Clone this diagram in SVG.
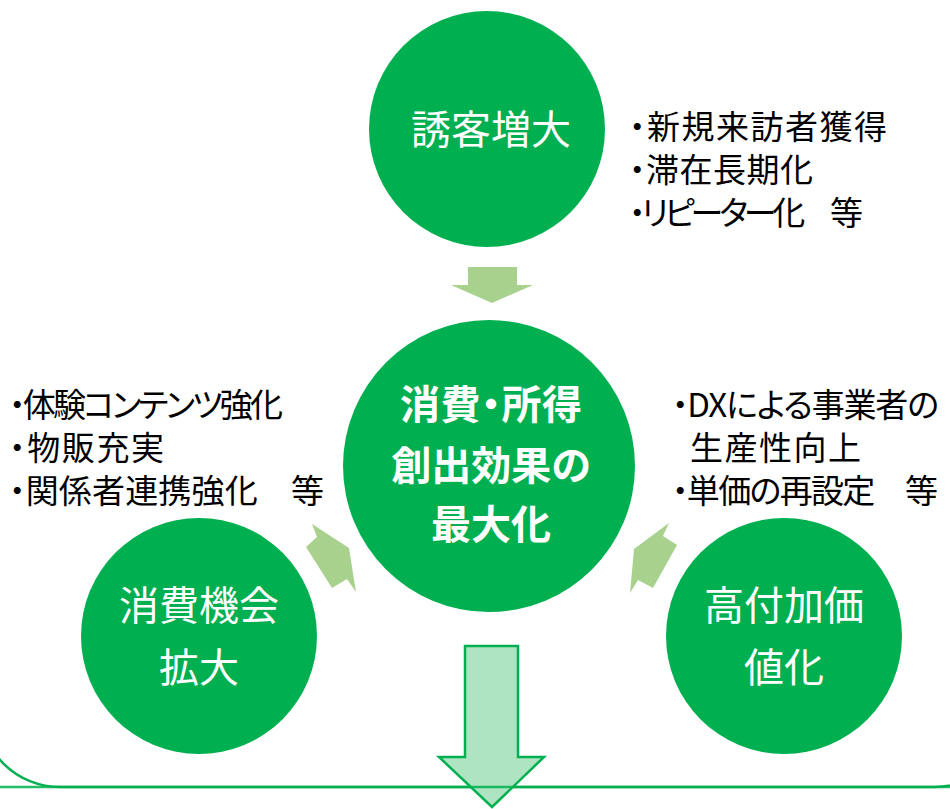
<svg xmlns="http://www.w3.org/2000/svg" width="950" height="809" viewBox="0 0 950 809">
<style>
.circle{fill:#00B050}
.ctext{fill:#FFFFFF;font-family:"Noto Sans CJK JP","Noto Sans",sans-serif;font-size:40px;text-anchor:middle}
.btext{fill:#FFFFFF;font-family:"Noto Sans CJK JP","Noto Sans",sans-serif;font-size:40px;font-weight:bold;font-feature-settings:"palt"}
.note{fill:#000000;font-family:"Noto Sans CJK JP","Noto Sans",sans-serif;font-size:33px;font-feature-settings:"palt"}
.arrow{fill:#A9D18E}
.bigarrow{fill:#AEE4C2;stroke:#00B050;stroke-width:2.5;stroke-linejoin:miter}
.frame{fill:none;stroke:#00B050;stroke-width:2.5}
</style>
<rect width="950" height="809" fill="#FFFFFF"/>

<g id="frame">
<path class="frame" d="M -20 560 L -20 707 A 80 80 0 0 0 60 787 L 935 787 A 80 80 0 0 0 1015 707 L 1015 560"/>
</g>

<g id="connectors">
<polygon class="arrow" points="468,267 517,267 517,285 533,285 492,303 451,285 468,285"/>
<polygon class="arrow" points="312,524 317,537 306,547 332,588 347,579 356,592 349,548"/>
<polygon class="arrow" points="669,523 663,536 677,545 653,588 638,580 630,593 634,549"/>
<polygon class="bigarrow" points="465,646 518,646 518,757 544,757 492,807 439,757 465,757"/>
<line x1="0" y1="787" x2="950" y2="787" stroke="#00B050" stroke-width="2.5" stroke-opacity="0.85"/>
</g>

<g id="node-top">
<circle class="circle" cx="487" cy="129" r="118"/>
<text class="ctext" x="491" y="144">誘客増大</text>
</g>

<g id="node-center">
<circle class="circle" cx="489" cy="466" r="146"/>
<text class="btext" x="400" y="419" textLength="182" lengthAdjust="spacing">消費・所得</text>
<text class="btext" x="491" y="480" text-anchor="middle">創出効果の</text>
<text class="btext" x="491" y="539" text-anchor="middle">最大化</text>
</g>

<g id="node-left">
<circle class="circle" cx="199" cy="636" r="118"/>
<text class="ctext" x="199" y="620">消費機会</text>
<text class="ctext" x="199" y="682">拡大</text>
</g>

<g id="node-right">
<circle class="circle" cx="784" cy="636" r="118"/>
<text class="ctext" x="784" y="620">高付加価</text>
<text class="ctext" x="784" y="682">値化</text>
</g>

<g id="notes-top">
<text class="note" x="629" y="139" textLength="258" lengthAdjust="spacing">・新規来訪者獲得</text>
<text class="note" x="629" y="182" textLength="184" lengthAdjust="spacing">・滞在長期化</text>
<text class="note" x="629" y="225" textLength="234" lengthAdjust="spacing">・リピーター化　等</text>
</g>

<g id="notes-left">
<text class="note" x="9" y="417" textLength="274" lengthAdjust="spacing">・体験コンテンツ強化</text>
<text class="note" x="9" y="460" textLength="155" lengthAdjust="spacing">・物販充実</text>
<text class="note" x="9" y="503" textLength="315" lengthAdjust="spacing">・関係者連携強化　等</text>
</g>

<g id="notes-right">
<text class="note" x="672" y="417" textLength="267" lengthAdjust="spacing">・DXによる事業者の</text>
<text class="note" x="690" y="460" textLength="171" lengthAdjust="spacing">生産性向上</text>
<text class="note" x="672" y="503" textLength="266" lengthAdjust="spacing">・単価の再設定　等</text>
</g>
</svg>
